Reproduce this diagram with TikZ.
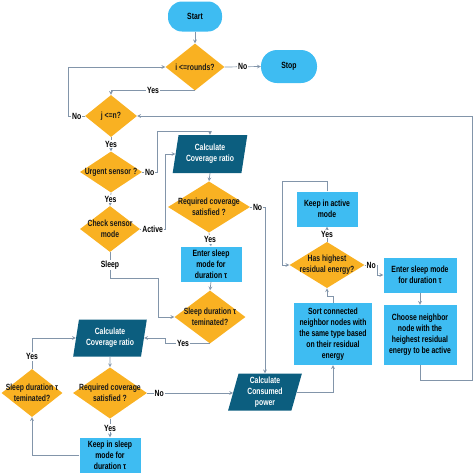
\documentclass[tikz,border=0pt]{standalone}
\usepackage{fontspec}
\setmainfont{Liberation Sans}[FakeStretch=0.76]
\usetikzlibrary{shapes.geometric}
\definecolor{sky}{HTML}{3EBCF2}
\definecolor{petrol}{HTML}{0C5E7F}
\definecolor{amber}{HTML}{F9B122}
\definecolor{wirec}{HTML}{8295AA}
\tikzset{
  base/.style={font=\fontsize{9}{11}\selectfont\bfseries, align=center, inner sep=0pt},
  term/.style={base, fill=sky, rounded corners=14pt, minimum width=54pt, minimum height=30pt},
  proc/.style={base, fill=sky, minimum width=61pt, minimum height=35pt},
  io/.style={base, trapezium, trapezium left angle=77, trapezium right angle=103, trapezium stretches=true,
    fill=petrol, text=white, minimum width=75pt, minimum height=38pt},
  ask/.style={base, diamond, fill=amber, text=black!90, inner sep=-7pt},
  lbl/.style={base, fill=white, inner sep=1pt},
  wire/.style={->, draw=wirec, line width=0.7pt}
}
\begin{document}
\begin{tikzpicture}[>=stealth, x=1pt, y=-1pt]
  \useasboundingbox (0,0) rectangle (474,475);
  \node[term] (start) at (195,16.5) {Start};
  \node[ask, minimum width=59pt, minimum height=47pt] (rounds) at (195,67) {i <=rounds?};
  \node[term, minimum width=56pt, minimum height=33pt, rounded corners=16pt] (stop) at (289,66.5) {Stop};
  \node[ask, minimum width=52pt, minimum height=42pt] (jn) at (111,116) {j <=n?};
  \node[ask, minimum width=62pt, minimum height=41pt] (urgent) at (111,172) {Urgent sensor ?};
  \node[ask, minimum width=60pt, minimum height=46pt] (check) at (110,229) {Check sensor\\mode};
  \node[io] (cov1) at (210,154) {Calculate\\Coverage ratio};
  \node[ask, minimum width=82pt, minimum height=50pt] (req1) at (209,207) {Required coverage\\satisfied ?};
  \node[proc] (sleep1) at (211,264) {Enter sleep\\mode for\\duration τ};
  \node[ask, minimum width=71pt, minimum height=53pt] (term1) at (210,317) {Sleep duration τ\\teminated?};
  \node[io, minimum width=74pt, minimum height=37pt] (cov2) at (110,338) {Calculate\\Coverage ratio};
  \node[ask, minimum width=74pt, minimum height=47pt] (req2) at (110,393) {Required coverage\\satisfied ?};
  \node[ask, minimum width=61pt, minimum height=48pt] (term2) at (32,393) {Sleep duration τ\\teminated?};
  \node[proc] (keep) at (110,455) {Keep in sleep\\mode for\\duration τ};
  \node[io, minimum width=74pt, minimum height=37pt] (power) at (265,392) {Calculate\\Consumed\\power};
  \node[proc, minimum width=78pt, minimum height=62pt] (sort) at (333,334) {Sort connected\\neighbor nodes with\\the same type based\\on their residual\\energy};
  \node[ask, minimum width=75pt, minimum height=44pt] (highest) at (327,265) {Has highest\\residual energy?};
  \node[proc] (active) at (327,209) {Keep in active\\mode};
  \node[proc, minimum width=73pt] (sleep2) at (420,275) {Enter sleep mode\\for duration τ};
  \node[proc, minimum width=73pt, minimum height=60pt] (choose) at (420,335) {Choose neighbor\\node with the\\heighest residual\\energy to be active};
  \coordinate (rim) at (472,116);

  \foreach \a/\b in {start/rounds, cov1/req1, sleep1/term1, cov2/req2, sleep2/choose}
    \draw[wire] (\a.south) -- (\b.north);
  \draw[wire] (rounds.east) -- node[lbl]{No} (stop.west);
  \draw[wire] (rounds.south) -- node[lbl]{Yes} (jn.north |- rounds.south) -- (jn.north);
  \draw[wire] (jn.west) -- node[lbl]{No} ++(-16,0) |- (rounds.west);
  \draw[wire] (jn.south) -- node[lbl]{Yes} (urgent.north);
  \draw[wire] (urgent.east) -- node[lbl]{No} ++(15,0) -- ++(0,-41) -| (cov1.north);
  \draw[wire] (urgent.south) -- node[lbl]{Yes} (check.north);
  \draw[wire] (check.east) -- node[lbl]{Active} ++(25,0) |- (cov1.west);
  \draw[wire] (check.south) -- node[lbl]{Sleep} ++(0,26) -- ++(48,0) |- (term1.west);
  \draw[wire] (req1.east) -- node[lbl]{No} (req1.east -| power.north) -- (power.north);
  \draw[wire] (req1.south) -- node[lbl]{Yes} (sleep1.north);
  \draw[wire] (term1.south) -- node[lbl, pos=.6]{Yes} ++(-45,0) |- (cov2.east);
  \draw[wire] (req2.east) -- node[lbl, pos=.14]{No} (req2.east -| power.west);
  \draw[wire] (req2.south) -- node[lbl]{Yes} (keep.north);
  \draw[wire] (keep.west) -| (term2.south);
  \draw[wire] (term2.north) |- node[lbl, pos=.2]{Yes} (cov2.west);
  \draw[wire] (power.east) -| (sort.south);
  \draw[wire] (sort.north) -- ++(0,-6) -| (highest.south);
  \draw[wire] (highest.north) -- node[lbl]{Yes} (active.south);
  \draw[wire] (active.north) -- ++(0,-10) -- ++(-45,0) |- (highest.west);
  \draw[wire] (highest.east) -- node[lbl]{No} ++(13,0) |- (sleep2.west);
  \draw[wire] (choose.south) -- ++(0,15) -| (rim) -- (jn.east);
\end{tikzpicture}
\end{document}
